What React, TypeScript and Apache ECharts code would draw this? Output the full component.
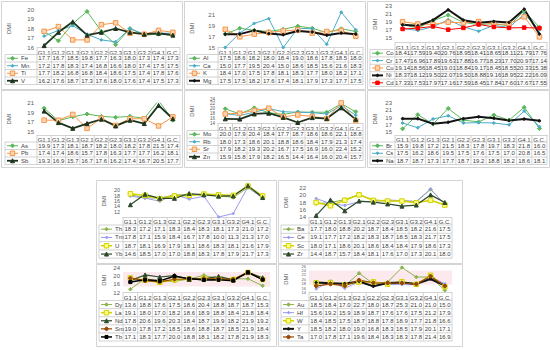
import React, { useEffect, useRef } from "react";
import * as echarts from "echarts";

const categories = ["G1.1", "G1.2", "G1.3", "G2.1", "G2.2", "G2.3", "G3.1", "G3.2", "G4.1", "G.C."];

// Panel A
const fe = [17.7, 16.7, 18.5, 19.8, 17.7, 16.3, 18.0, 17.3, 17.4, 17.3];
const mn = [17.2, 17.8, 18.3, 17.4, 16.8, 16.6, 18.0, 17.4, 17.5, 17.5];
const ti = [17.7, 18.2, 16.8, 16.8, 18.4, 18.6, 17.5, 17.4, 17.8, 17.6];
const vv = [16.2, 17.6, 18.7, 17.3, 17.6, 18.0, 17.6, 17.4, 17.5, 17.3];
// Panel B
const al = [17.5, 18.6, 18.2, 18.0, 18.4, 19.0, 18.6, 17.8, 18.5, 18.0];
const ca = [15.0, 17.7, 19.5, 20.4, 15.0, 18.6, 18.5, 15.6, 21.6, 18.3];
const kk = [18.4, 17.0, 17.5, 17.8, 18.1, 18.3, 17.7, 18.0, 18.2, 17.1];
const mg = [17.5, 17.5, 18.2, 17.6, 17.4, 18.1, 17.9, 17.3, 17.7, 17.5];
// Panel C
const co = [18.41, 17.59, 19.40, 20.76, 18.95, 18.41, 18.65, 18.11, 21.79, 17.76];
const cr = [17.47, 16.96, 17.89, 19.63, 17.88, 16.77, 18.23, 17.70, 20.97, 17.14];
const cu = [19.14, 18.56, 18.45, 19.01, 18.84, 19.17, 18.45, 18.55, 20.33, 15.38];
const ni = [18.37, 18.12, 19.50, 22.07, 19.50, 18.88, 19.16, 18.95, 22.22, 16.09];
const cd = [17.33, 17.53, 17.97, 17.16, 17.59, 18.45, 17.84, 17.60, 17.67, 17.55];
// Panel D
const asv = [19.9, 17.3, 18.1, 18.7, 18.2, 18.0, 18.2, 17.8, 21.5, 17.4];
const pb = [17.4, 17.4, 18.6, 15.7, 17.8, 16.3, 17.7, 17.7, 16.2, 18.1];
const sb = [19.3, 16.9, 15.7, 16.7, 17.6, 16.2, 17.4, 16.7, 20.5, 17.7];
// Panel E
const mo = [20.0, 17.9, 20.4, 18.4, 17.7, 18.7, 18.6, 18.6, 22.1, 18.8];
const rb = [18.0, 17.3, 18.6, 20.1, 18.8, 18.6, 18.4, 17.9, 21.3, 17.4];
const sr = [17.9, 18.2, 19.3, 20.2, 16.7, 17.5, 16.9, 16.0, 22.4, 15.2];
const zn = [15.9, 15.8, 17.9, 18.2, 16.5, 14.4, 16.4, 16.0, 20.4, 15.7];
// Panel F
const br = [15.9, 19.8, 17.2, 21.5, 18.3, 17.8, 19.7, 18.3, 21.8, 16.0];
const cs = [17.5, 16.2, 18.6, 19.5, 17.5, 17.6, 17.5, 17.0, 20.8, 16.5];
const na = [18.7, 18.7, 17.3, 17.7, 18.7, 19.2, 18.8, 18.2, 18.6, 18.1];
// Panel G
const th = [18.3, 17.2, 17.1, 18.3, 18.4, 18.3, 18.1, 17.3, 21.0, 17.2];
const tm = [17.8, 17.1, 15.9, 18.4, 16.7, 17.8, 10.0, 11.3, 21.3, 17.0];
const uu = [18.7, 18.1, 16.9, 17.9, 18.1, 18.6, 18.3, 18.1, 21.6, 17.9];
const yb = [14.6, 18.5, 17.0, 17.0, 18.8, 18.3, 17.8, 17.9, 21.7, 17.3];
// Panel H
const ba = [17.7, 18.0, 18.8, 20.2, 18.7, 18.4, 18.5, 18.2, 21.6, 17.5];
const ce = [19.1, 17.7, 17.2, 18.2, 18.3, 18.7, 18.5, 18.3, 21.7, 17.5];
const sc = [18.0, 17.1, 18.6, 20.1, 18.6, 18.4, 18.4, 17.9, 18.6, 17.3];
const zr = [14.4, 18.7, 15.7, 18.4, 18.1, 17.6, 17.0, 17.3, 20.1, 18.0];
// Panel I
const dy = [13.6, 18.8, 17.6, 17.5, 18.6, 20.4, 18.8, 18.7, 18.7, 15.3];
const la = [19.1, 18.0, 17.0, 18.2, 18.6, 18.9, 18.8, 18.4, 21.8, 18.4];
const nd = [17.8, 20.6, 19.6, 20.3, 18.4, 18.7, 19.9, 18.2, 21.9, 19.2];
const sm = [19.0, 17.8, 17.2, 18.5, 18.6, 18.8, 18.7, 18.5, 21.9, 18.4];
const tb = [17.1, 18.3, 17.7, 20.0, 18.8, 18.1, 18.2, 17.8, 21.9, 18.3];
// Panel J
const au = [18.5, 18.4, 17.0, 22.7, 18.0, 18.7, 25.3, 21.0, 21.0, 15.0];
const hf = [15.6, 19.2, 15.9, 18.9, 18.7, 17.6, 17.6, 17.5, 21.2, 17.9];
const ww = [18.4, 18.5, 17.5, 18.7, 18.8, 17.8, 18.9, 17.7, 21.8, 16.6];
const yy = [18.5, 18.2, 18.0, 19.0, 16.8, 18.3, 18.5, 17.9, 20.1, 17.1];
const ta = [17.0, 17.8, 17.1, 19.6, 18.4, 18.3, 18.3, 17.8, 21.4, 16.9];

// axis tick labels
const ticksA = [16, 17, 18, 19, 20];
const ticksB = [15, 17, 19, 21];
const ticksC = [15, 17, 19, 21, 23];
const ticksD = [15, 17, 19, 21];
const ticksE = [14, 16, 18, 20, 22, 24];
const ticksF = [15, 17, 19, 21, 23];
const ticksG = [10, 12, 14, 16, 18, 20, 22];
const ticksH = [14, 16, 18, 20, 22];
const ticksI = [12, 16, 20, 24];
const ticksJ = [14, 16, 18, 20, 22, 24, 26];

const FONT = "'Liberation Sans', Arial, sans-serif";

type St = { color: string; fill?: string; symbol: string; size: number; width: number };
const STY: Record<string, St> = {
  green: { color: "#5cb85c", symbol: "diamond", size: 4, width: 1 },
  cyan: { color: "#4bacc6", symbol: "diamond", size: 3, width: 1 },
  orange: { color: "#f79646", fill: "#fcd5b4", symbol: "rect", size: 4.5, width: 1 },
  darkTri: { color: "#1e341e", symbol: "triangle", size: 4, width: 1.8 },
  dark: { color: "#141414", symbol: "circle", size: 2.5, width: 2 },
  red: { color: "#ff0000", symbol: "rect", size: 3.5, width: 1 },
  olive: { color: "#8db34f", symbol: "diamond", size: 3.5, width: 1 },
  lav: { color: "#9a9af0", symbol: "circle", size: 2, width: 1 },
  yellow: { color: "#d2d200", fill: "#ffff80", symbol: "rect", size: 4.5, width: 1.5 },
  darkG: { color: "#2d4a2d", symbol: "triangle", size: 4, width: 1.2 },
  brown: { color: "#984807", symbol: "circle", size: 3.5, width: 1.2 },
  blackSq: { color: "#000000", symbol: "rect", size: 3, width: 1.5 },
};

type Panel = {
  series: [string, number[], string][];
  ticks: number[];
  yMin: number;
  yMax: number;
  dec: number;
  band?: [number, number];
  tickFont: number;
  box: [number, number, number, number];
  legendLeft: number;
  tableLeft: number;
  tableRight: number;
  plotTop: number;
  axisY: number;
  headerH: number;
  rowH: number;
};

const panels: Panel[] = [
  { series: [["Fe", fe, "green"], ["Mn", mn, "cyan"], ["Ti", ti, "orange"], ["V", vv, "darkTri"]], ticks: ticksA, yMin: 16, yMax: 20, dec: 1, tickFont: 6,
    box: [1, 1, 181, 88], legendLeft: 5, tableLeft: 37, tableRight: 180, plotTop: 9.5, axisY: 47.5, headerH: 7, rowH: 7.5 },
  { series: [["Al", al, "green"], ["Ca", ca, "cyan"], ["K", kk, "orange"], ["Mg", mg, "dark"]], ticks: ticksB, yMin: 15, yMax: 22.2, dec: 1, tickFont: 6,
    box: [184, 1, 181, 88], legendLeft: 187, tableLeft: 218, tableRight: 363, plotTop: 9, axisY: 47.5, headerH: 7, rowH: 7.5 },
  { series: [["Co", co, "green"], ["Cr", cr, "cyan"], ["Cu", cu, "orange"], ["Ni", ni, "dark"], ["Cd", cd, "red"]], ticks: ticksC, yMin: 14, yMax: 23, dec: 2, tickFont: 6,
    box: [367, 1, 182, 88], legendLeft: 370, tableLeft: 395, tableRight: 547, plotTop: 6, axisY: 42.5, headerH: 7, rowH: 7.4 },
  { series: [["As", asv, "green"], ["Pb", pb, "orange"], ["Sb", sb, "darkTri"]], ticks: ticksD, yMin: 14.3, yMax: 21, dec: 1, tickFont: 6,
    box: [1, 90, 181, 77], legendLeft: 5, tableLeft: 37, tableRight: 180, plotTop: 103, axisY: 135, headerH: 7, rowH: 7.5 },
  { series: [["Mo", mo, "green"], ["Rb", rb, "cyan"], ["Sr", sr, "orange"], ["Zn", zn, "darkTri"]], ticks: ticksE, yMin: 14, yMax: 24, dec: 1, tickFont: 4.5,
    box: [184, 90, 181, 77], legendLeft: 187, tableLeft: 218, tableRight: 363, plotTop: 99, axisY: 123.5, headerH: 7, rowH: 7.5 },
  { series: [["Br", br, "green"], ["Cs", cs, "cyan"], ["Na", na, "dark"]], ticks: ticksF, yMin: 14.2, yMax: 23, dec: 1, tickFont: 6,
    box: [367, 90, 182, 77], legendLeft: 370, tableLeft: 395, tableRight: 547, plotTop: 103, axisY: 135, headerH: 7, rowH: 7.5 },
  { series: [["Th", th, "olive"], ["Tm", tm, "lav"], ["U", uu, "yellow"], ["Yb", yb, "darkG"]], ticks: ticksG, yMin: 10, yMax: 22, dec: 1, tickFont: 5.5,
    box: [96, 180, 180, 83], legendLeft: 99, tableLeft: 123, tableRight: 270, plotTop: 185, axisY: 217, headerH: 8, rowH: 8.3 },
  { series: [["Ba", ba, "olive"], ["Ce", ce, "lav"], ["Sc", sc, "yellow"], ["Zr", zr, "darkG"]], ticks: ticksH, yMin: 14, yMax: 22, dec: 1, tickFont: 6,
    box: [278, 180, 184, 83], legendLeft: 281, tableLeft: 309, tableRight: 452, plotTop: 188, axisY: 217, headerH: 8, rowH: 8.3 },
  { series: [["Dy", dy, "olive"], ["La", la, "yellow"], ["Nd", nd, "darkG"], ["Sm", sm, "brown"], ["Tb", tb, "blackSq"]], ticks: ticksI, yMin: 12, yMax: 24, dec: 1, band: [15, 22], tickFont: 6,
    box: [96, 264, 180, 82], legendLeft: 99, tableLeft: 123, tableRight: 270, plotTop: 268, axisY: 292.5, headerH: 8, rowH: 8.1 },
  { series: [["Au", au, "olive"], ["Hf", hf, "lav"], ["W", ww, "yellow"], ["Y", yy, "dark"], ["Ta", ta, "brown"]], ticks: ticksJ, yMin: 14, yMax: 26, dec: 1, band: [17.5, 24], tickFont: 4,
    box: [278, 264, 184, 82], legendLeft: 281, tableLeft: 309, tableRight: 452, plotTop: 266, axisY: 292.5, headerH: 8, rowH: 8.1 },
];

const GRID = "#c8c8c8";
const TXT = "#404040";

function marker(st: St, cx: number, cy: number): any {
  const s = st.size;
  const style = { fill: st.fill || st.color, stroke: st.color, lineWidth: 1 };
  if (st.symbol === "rect") return { type: "rect", shape: { x: cx - s / 2, y: cy - s / 2, width: s, height: s }, style, silent: true, z: 10 };
  if (st.symbol === "circle") return { type: "circle", shape: { cx, cy, r: s / 2 }, style, silent: true, z: 10 };
  if (st.symbol === "triangle")
    return { type: "polygon", shape: { points: [[cx, cy - s / 2], [cx + s / 2, cy + s / 2], [cx - s / 2, cy + s / 2]] }, style, silent: true, z: 10 };
  return { type: "polygon", shape: { points: [[cx, cy - s / 2], [cx + s / 2, cy], [cx, cy + s / 2], [cx - s / 2, cy]] }, style, silent: true, z: 10 };
}

function buildOption() {
  const grid: any[] = [];
  const xAxis: any[] = [];
  const yAxis: any[] = [];
  const series: any[] = [];
  const graphic: any[] = [];
  const line = (x1: number, y1: number, x2: number, y2: number, color = GRID) =>
    graphic.push({ type: "line", shape: { x1, y1, x2, y2 }, style: { stroke: color, lineWidth: 0.8 }, silent: true, z: 5 });

  panels.forEach((p, pi) => {
    const [bx, by, bw, bh] = p.box;
    grid.push({ left: p.tableLeft, top: p.plotTop, width: p.tableRight - p.tableLeft, height: p.axisY - p.plotTop });
    xAxis.push({
      gridIndex: pi, type: "category", data: categories, boundaryGap: true,
      axisLine: { lineStyle: { color: GRID, width: 0.8 } }, axisTick: { show: false },
      axisLabel: { interval: 0, fontSize: 6, margin: 2, color: TXT, fontFamily: FONT },
    });
    yAxis.push({
      gridIndex: pi, type: "value", min: p.yMin, max: p.yMax,
      splitLine: { show: false }, axisLine: { show: false }, axisTick: { show: false },
      axisLabel: { fontSize: p.tickFont, margin: 3, color: "#595959", fontFamily: FONT, customValues: p.ticks },
      name: "DMI", nameLocation: "middle", nameGap: p.tableLeft - (bx + 11),
      nameTextStyle: { fontSize: 6, color: "#595959", fontFamily: FONT },
    });
    p.series.forEach(([name, data, sk], si) => {
      const st = STY[sk];
      const s: any = {
        type: "line", name: name + pi, xAxisIndex: pi, yAxisIndex: pi, data,
        symbol: st.symbol, symbolSize: st.size, showSymbol: true,
        lineStyle: { color: st.color, width: st.width },
        itemStyle: { color: st.fill || st.color, borderColor: st.color, borderWidth: 1 },
        z: 3,
      };
      if (si === 0 && p.band) {
        s.markArea = { silent: true, itemStyle: { color: "rgba(248,200,210,0.4)" }, data: [[{ yAxis: p.band[0] }, { yAxis: p.band[1] }]] };
      }
      series.push(s);
    });

    // panel border
    graphic.push({ type: "rect", shape: { x: bx + 0.5, y: by + 0.5, width: bw, height: bh }, style: { fill: "none", stroke: "#d4d4d4", lineWidth: 1 }, silent: true });

    // data table
    const n = p.series.length;
    const colW = (p.tableRight - p.tableLeft) / categories.length;
    const top = p.axisY + p.headerH;
    const bottom = top + n * p.rowH;
    for (let i = 0; i <= categories.length; i++) {
      const x = p.tableLeft + i * colW;
      line(x, p.axisY, x, bottom);
    }
    line(p.legendLeft, top, p.legendLeft, bottom);
    for (let r = 0; r <= n; r++) {
      const y = top + r * p.rowH;
      line(p.legendLeft, y, p.tableRight, y);
    }
    p.series.forEach(([name, data, sk], r) => {
      const st = STY[sk];
      const cy = top + (r + 0.5) * p.rowH;
      const lx1 = p.legendLeft + 2;
      const lx2 = p.legendLeft + 13;
      graphic.push({ type: "line", shape: { x1: lx1, y1: cy, x2: lx2, y2: cy }, style: { stroke: st.color, lineWidth: st.width }, silent: true, z: 9 });
      graphic.push(marker(st, (lx1 + lx2) / 2, cy));
      graphic.push({
        type: "text", x: p.legendLeft + 16, y: cy, silent: true, z: 10,
        style: { text: name, fontSize: 6, fontFamily: FONT, fill: TXT, align: "left", verticalAlign: "middle", textAlign: "left", textVerticalAlign: "middle" },
      });
      data.forEach((v, i) => {
        graphic.push({
          type: "text", x: p.tableLeft + (i + 0.5) * colW, y: cy, silent: true, z: 10,
          style: { text: v.toFixed(p.dec), fontSize: 6, fontFamily: FONT, fill: TXT, align: "center", verticalAlign: "middle", textAlign: "center", textVerticalAlign: "middle" },
        });
      });
    });
  });

  return {
    animation: false,
    backgroundColor: "#ffffff",
    textStyle: { fontFamily: FONT },
    grid, xAxis, yAxis, series, graphic,
  };
}

export default function App() {
  const ref = useRef<HTMLDivElement>(null);
  useEffect(() => {
    if (!ref.current) return;
    const chart = echarts.init(ref.current, undefined, { renderer: "svg" });
    chart.setOption(buildOption() as any);
    return () => chart.dispose();
  }, []);
  return <div ref={ref} style={{ position: "absolute", left: 0, top: 0, width: 550, height: 350 }} />;
}
